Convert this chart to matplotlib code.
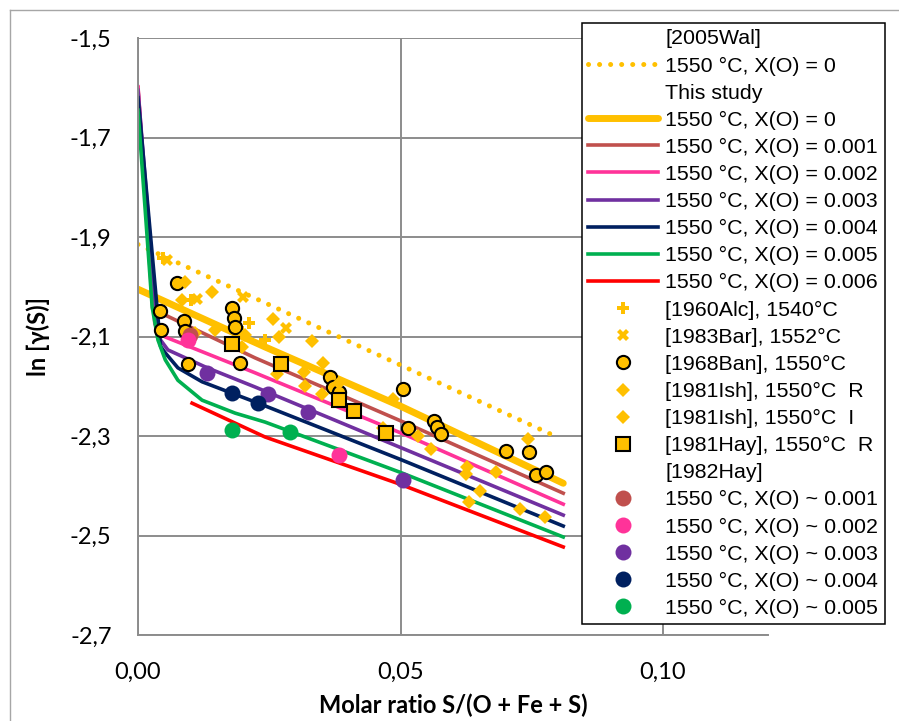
import matplotlib
matplotlib.use("Agg")
import matplotlib.pyplot as plt
from matplotlib.lines import Line2D
from matplotlib.ticker import FuncFormatter

# --- model curves: ln gamma(S) vs molar ratio S/(O+Fe+S), 1550 C ---
wal_x = [0.0, 0.0798]
wal_y = [-1.915, -2.302]

xo0_x = [0.0, 0.0242, 0.050, 0.081]
xo0_y = [-2.005, -2.121, -2.240, -2.395]

xo1_x = [0.0, 0.0028, 0.0223, 0.051, 0.081]
xo1_y = [-1.600, -2.045, -2.143, -2.274, -2.415]

xo2_x = [0.0, 0.0032, 0.0052, 0.0223, 0.051, 0.081]
xo2_y = [-1.598, -2.075, -2.101, -2.173, -2.298, -2.437]

xo3_x = [0.0, 0.0038, 0.0057, 0.0132, 0.0223, 0.0502, 0.081]
xo3_y = [-1.605, -2.100, -2.127, -2.163, -2.2015, -2.324, -2.459]

xo4_x = [0.0, 0.0043, 0.0052, 0.0076, 0.0122, 0.0179, 0.0229, 0.0502, 0.081]
xo4_y = [-1.620, -2.120, -2.133, -2.163, -2.191, -2.214, -2.234, -2.348, -2.481]

xo5_x = [0.0, 0.0027, 0.0038, 0.0052, 0.0076, 0.0122, 0.0185, 0.0242, 0.0502, 0.081]
xo5_y = [-1.645, -2.041, -2.107, -2.147, -2.188, -2.228, -2.254, -2.272, -2.374, -2.503]

xo6_x = [0.0103, 0.0242, 0.0502, 0.081]
xo6_y = [-2.234, -2.302, -2.398, -2.523]

# --- experimental data ---
alc_x = [0.0048, 0.0100, 0.0191, 0.0211, 0.0242]
alc_y = [-1.942, -2.027, -2.083, -2.073, -2.107]

bar_x = [0.0055, 0.0113, 0.0200, 0.0281]
bar_y = [-1.946, -2.025, -2.021, -2.083]

ban_x = [0.0074, 0.0042, 0.0044, 0.0088, 0.0090, 0.0095, 0.0179, 0.0183, 0.0185,
         0.0195, 0.0366, 0.0372, 0.0382, 0.0504, 0.0515, 0.0563, 0.0569, 0.0578,
         0.0700, 0.0744, 0.0758, 0.0777]
ban_y = [-1.992, -2.049, -2.087, -2.069, -2.089, -2.155, -2.043, -2.063, -2.081,
         -2.153, -2.181, -2.201, -2.212, -2.206, -2.284, -2.270, -2.282, -2.296,
         -2.330, -2.332, -2.378, -2.372]

ish_r_x = [0.0090, 0.0141, 0.0084, 0.0109, 0.0147, 0.0204, 0.0198, 0.0258, 0.0269,
           0.0332, 0.0353, 0.0317]
ish_r_y = [-1.990, -2.011, -2.027, -2.093, -2.087, -2.097, -2.121, -2.064, -2.101,
           -2.110, -2.153, -2.172]

ish_i_x = [0.0265, 0.0319, 0.0351, 0.0382, 0.0485, 0.0466, 0.0534, 0.0559, 0.0626,
           0.0624, 0.0681, 0.0651, 0.0630, 0.0727, 0.0775, 0.0742]
ish_i_y = [-2.175, -2.199, -2.216, -2.193, -2.226, -2.284, -2.300, -2.326, -2.362,
           -2.376, -2.372, -2.411, -2.433, -2.447, -2.463, -2.306]

hay81_x = [0.0179, 0.0273, 0.0382, 0.0412, 0.0473]
hay81_y = [-2.115, -2.155, -2.228, -2.250, -2.294]

hay82_1_x = [0.0099]
hay82_1_y = [-2.097]
hay82_2_x = [0.0095, 0.0382]
hay82_2_y = [-2.107, -2.338]
hay82_3_x = [0.0132, 0.0248, 0.0324, 0.0504]
hay82_3_y = [-2.173, -2.216, -2.252, -2.388]
hay82_4_x = [0.0179, 0.0229]
hay82_4_y = [-2.214, -2.234]
hay82_5_x = [0.0179, 0.0290]
hay82_5_y = [-2.288, -2.292]

x_ticks = [0.0, 0.05, 0.10]
y_ticks = [-2.7, -2.5, -2.3, -2.1, -1.9, -1.7, -1.5]

GOLD = "#FFC000"
BROWN = "#C0504D"
PINK = "#FF3399"
PURPLE = "#7030A0"
NAVY = "#002060"
GREEN = "#00B050"
RED = "#FF0000"
GRID = "#8c8c8c"

W, H = 899, 721
fig = plt.figure(figsize=(W / 100, H / 100), dpi=100)
ax = fig.add_axes([138 / W, 1 - 635 / H, (768 - 138) / W, (635 - 38) / H])

# curves
wal, = ax.plot(wal_x, wal_y, color=GOLD, lw=3.6, dashes=(0.01, 2.2),
               dash_capstyle="round", label="1550 °C, X(O) = 0")
l0, = ax.plot(xo0_x, xo0_y, color=GOLD, lw=5, solid_capstyle="round", label="1550 °C, X(O) = 0")
l1, = ax.plot(xo1_x, xo1_y, color=BROWN, lw=2.6, label="1550 °C, X(O) = 0.001")
l2, = ax.plot(xo2_x, xo2_y, color=PINK, lw=2.6, label="1550 °C, X(O) = 0.002")
l3, = ax.plot(xo3_x, xo3_y, color=PURPLE, lw=2.6, label="1550 °C, X(O) = 0.003")
l4, = ax.plot(xo4_x, xo4_y, color=NAVY, lw=2.6, label="1550 °C, X(O) = 0.004")
l5, = ax.plot(xo5_x, xo5_y, color=GREEN, lw=2.6, label="1550 °C, X(O) = 0.005")
l6, = ax.plot(xo6_x, xo6_y, color=RED, lw=2.6, label="1550 °C, X(O) = 0.006")

# measurements
alc, = ax.plot(alc_x, alc_y, ls="none", marker="P", ms=9, color=GOLD, mew=0,
               label="[1960Alc], 1540°C")
bar, = ax.plot(bar_x, bar_y, ls="none", marker="X", ms=9, color=GOLD, mew=0,
               label="[1983Bar], 1552°C")
ban, = ax.plot(ban_x, ban_y, ls="none", marker="o", ms=9.5, mfc=GOLD, mec="black",
               mew=1.5, label="[1968Ban], 1550°C")
ishr, = ax.plot(ish_r_x, ish_r_y, ls="none", marker="D", ms=7.2, color=GOLD, mew=0,
                label="[1981Ish], 1550°C  R")
ishi, = ax.plot(ish_i_x, ish_i_y, ls="none", marker="D", ms=7.2, color=GOLD, mew=0,
                label="[1981Ish], 1550°C  I")
hay, = ax.plot(hay81_x, hay81_y, ls="none", marker="s", ms=10, mfc=GOLD, mec="black",
               mew=1.5, label="[1981Hay], 1550°C  R")
h1, = ax.plot(hay82_1_x, hay82_1_y, ls="none", marker="o", ms=11.5, color=BROWN, mew=0,
              label="1550 °C, X(O) ~ 0.001")
h2, = ax.plot(hay82_2_x, hay82_2_y, ls="none", marker="o", ms=11.5, color=PINK, mew=0,
              label="1550 °C, X(O) ~ 0.002")
h3, = ax.plot(hay82_3_x, hay82_3_y, ls="none", marker="o", ms=11.5, color=PURPLE, mew=0,
              label="1550 °C, X(O) ~ 0.003")
h4, = ax.plot(hay82_4_x, hay82_4_y, ls="none", marker="o", ms=11.5, color=NAVY, mew=0,
              label="1550 °C, X(O) ~ 0.004")
h5, = ax.plot(hay82_5_x, hay82_5_y, ls="none", marker="o", ms=11.5, color=GREEN, mew=0,
              label="1550 °C, X(O) ~ 0.005")

ax.set_xlim(0, 0.12)
ax.set_ylim(-2.7, -1.5)
ax.set_xticks(x_ticks)
ax.set_yticks(y_ticks)
ax.xaxis.set_major_formatter(FuncFormatter(lambda v, _: f"{v:.2f}".replace(".", ",")))
ax.yaxis.set_major_formatter(FuncFormatter(lambda v, _: f"{v:.1f}".replace(".", ",")))
ax.tick_params(length=0, pad=19, labelsize=17)
for lab in ax.get_xticklabels() + ax.get_yticklabels():
    lab.set_fontfamily("Lato")
ax.grid(True, color=GRID, lw=1.4)
ax.set_axisbelow(True)
for side in ("top", "right"):
    ax.spines[side].set_visible(False)
for side in ("left", "bottom"):
    ax.spines[side].set_color(GRID)
    ax.spines[side].set_linewidth(1.4)

ax.set_xlabel("Molar ratio S/(O + Fe + S)", fontsize=17, fontweight="bold",
              fontfamily="Lato", labelpad=8)
ax.set_ylabel("ln [γ(S)]", fontsize=17, fontweight="bold", fontfamily="Lato", labelpad=14)

# legend with plain-text group headers
def header(text):
    return Line2D([], [], ls="none", marker=None, label=text)

handles = [header("[2005Wal]"), wal, header("This study"), l0, l1, l2, l3, l4, l5, l6,
           alc, bar, ban, ishr, ishi, hay, header("[1982Hay]"), h1, h2, h3, h4, h5]
leg = ax.legend(handles=handles, loc="upper left",
                bbox_to_anchor=(582 / W, 1 - 23 / H), bbox_transform=fig.transFigure,
                borderaxespad=0, prop={"family": "Liberation Sans", "size": 15.4},
                handlelength=3.27, handletextpad=0.33, labelspacing=0.377,
                borderpad=0.3, fancybox=False, framealpha=1, edgecolor="black")
leg.get_frame().set_linewidth(1.1)

# chart area border
fig.add_artist(Line2D([10 / W, 10 / W], [0, 1 - 10 / H], transform=fig.transFigure,
                      color="#a6a6a6", lw=1))
fig.add_artist(Line2D([10 / W, 1], [1 - 10 / H, 1 - 10 / H], transform=fig.transFigure,
                      color="#a6a6a6", lw=1))

fig.savefig("out.png", dpi=100)
